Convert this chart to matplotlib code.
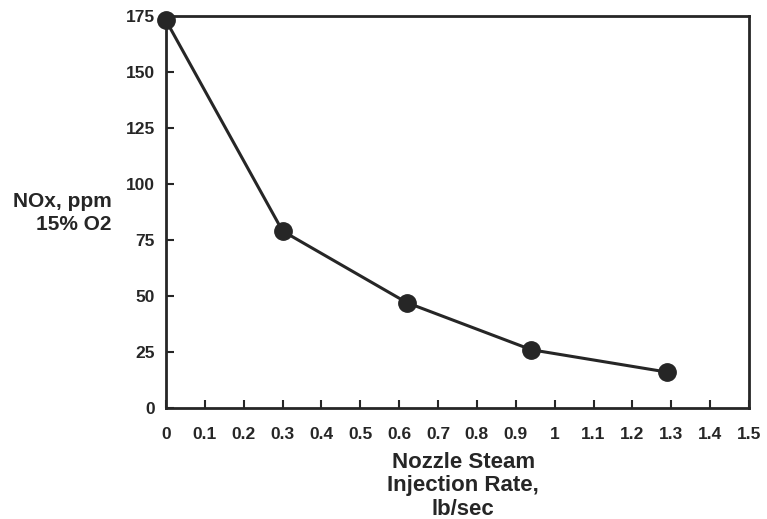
import matplotlib
matplotlib.use("Agg")
import matplotlib.pyplot as plt

plt.rcParams['font.family'] = ['Liberation Sans', 'DejaVu Sans']
plt.rcParams['font.weight'] = 'bold'

# steam injection rate (lb/sec) vs NOx (ppm @ 15% O2)
steam_rate = [0.0, 0.30, 0.62, 0.94, 1.29]
nox_ppm = [173, 79, 47, 26, 16]

x_ticks = [0, 0.1, 0.2, 0.3, 0.4, 0.5, 0.6, 0.7, 0.8, 0.9, 1, 1.1, 1.2, 1.3, 1.4, 1.5]
x_tick_labels = ['0', '0.1', '0.2', '0.3', '0.4', '0.5', '0.6', '0.7', '0.8', '0.9',
                 '1', '1.1', '1.2', '1.3', '1.4', '1.5']
y_ticks = [0, 25, 50, 75, 100, 125, 150, 175]

ink = '#262626'

fig = plt.figure(figsize=(7.67, 5.19), dpi=100)
ax = fig.add_axes([0.2164, 0.2139, 0.7601, 0.7553])

ax.plot(steam_rate, nox_ppm, color=ink, linewidth=2.2, marker='o',
        markersize=12.5, markerfacecolor=ink, markeredgecolor=ink, clip_on=False)

ax.set_xlim(0, 1.5)
ax.set_ylim(0, 175)
ax.set_xticks(x_ticks)
ax.set_xticklabels(x_tick_labels)
ax.set_yticks(y_ticks)

for side in ax.spines.values():
    side.set_color(ink)
    side.set_linewidth(2.0)

ax.tick_params(direction='in', length=6, width=1.5, color=ink,
               labelsize=12.5, labelcolor=ink)
ax.tick_params(axis='x', pad=13.5)
ax.tick_params(axis='y', pad=8)

fig.text(0.146, 0.590, 'NOx, ppm\n15% O2', ha='right', va='center',
         fontsize=15, color=ink, linespacing=1.25, fontweight='bold')
fig.text(0.604, 0.064, 'Nozzle Steam\nInjection Rate,\nlb/sec', ha='center',
         va='center', fontsize=16, color=ink, linespacing=1.15, fontweight='bold')

fig.savefig('out.png', dpi=100)
